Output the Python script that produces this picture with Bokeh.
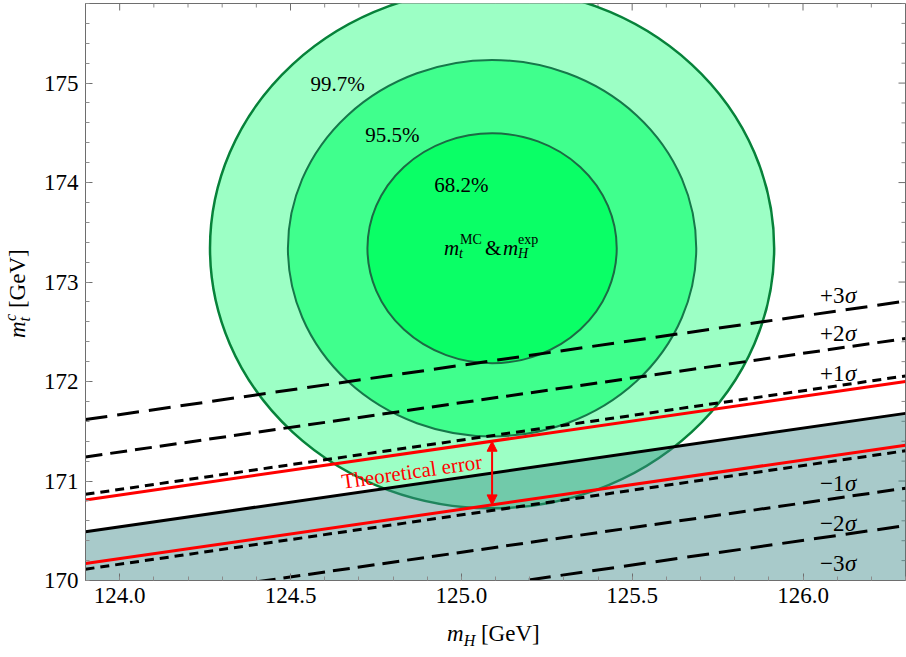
import math
import numpy as np
from bokeh.plotting import figure
from bokeh.layouts import column, row
from bokeh.models import (Range1d, SingleIntervalTicker, PrintfTickFormatter,
                          Arrow, NormalHead, Div)
from bokeh.core.properties import value
from bokeh.embed import file_html
from bokeh.resources import INLINE

# Axis extents
mh_range = [123.9, 126.3]
mt_range = [170.0, 175.8]

# Measured Higgs mass and MC top mass with their 1-sigma errors (GeV)
mh_exp = 125.09
mh_err = 0.24
mt_mc = 173.34
mt_err = 0.76

# 2D confidence regions, outermost first
cl_labels = ["99.7%", "95.5%", "68.2%"]
cl_nsigma = [3.44, 2.49, 1.52]

# Stability bound m_t^c as a function of m_H (values at both ends of the m_H range)
bound_mh = [123.9, 126.3]
bound_mt = [170.49, 171.68]
theory_err = 0.32
sigma_shift = 0.376
sigma_levels = [3, 2, 1, -1, -2, -3]
sigma_names = ["+3", "+2", "+1", "\u22121", "\u22122", "\u22123"]

SERIF = "'Liberation Serif', serif"
W, H = 906, 657
YTITLE_W = 40          # strip holding the rotated y-axis title
XTITLE_H = 37          # strip holding the x-axis title
P_W, P_H = W - YTITLE_W, H - XTITLE_H
B_LEFT, B_RIGHT, B_TOP, B_BOTTOM = 42, 1, 3, 40
FRAME_W = P_W - B_LEFT - B_RIGHT
FRAME_H = P_H - B_TOP - B_BOTTOM
px_x = FRAME_W / (mh_range[1] - mh_range[0])
px_y = FRAME_H / (mt_range[1] - mt_range[0])

p = figure(width=P_W, height=P_H, x_range=Range1d(*mh_range), y_range=Range1d(*mt_range),
           output_backend="svg", toolbar_location=None, margin=0,
           min_border_left=B_LEFT, min_border_right=B_RIGHT,
           min_border_top=B_TOP, min_border_bottom=B_BOTTOM)
p.grid.visible = False
FRAME_COLOR = "#6e6e6e"
p.outline_line_color = FRAME_COLOR
p.outline_line_width = 1
p.background_fill_color = "white"
p.border_fill_color = "white"


def style_axis(ax):
    ax.axis_line_color = FRAME_COLOR
    ax.axis_line_width = 1
    ax.major_tick_line_color = FRAME_COLOR
    ax.minor_tick_line_color = "#8c8c8c"
    ax.major_tick_in = 7
    ax.major_tick_out = 0
    ax.minor_tick_in = 4
    ax.minor_tick_out = 0
    ax.major_label_text_font = SERIF
    ax.major_label_text_font_size = "23px"
    ax.major_label_text_color = "black"
    ax.major_label_standoff = 7


xb = p.xaxis[0]
xb.ticker = SingleIntervalTicker(interval=0.5, num_minor_ticks=5)
xb.formatter = PrintfTickFormatter(format="%.1f")
style_axis(xb)
yl = p.yaxis[0]
yl.ticker = SingleIntervalTicker(interval=1.0, num_minor_ticks=5)
yl.formatter = PrintfTickFormatter(format="%.0f")
style_axis(yl)

# Inward ticks on the top and right frame edges
x_minor = np.round(np.arange(124.0, mh_range[1], 0.1), 2)
x_major = x_minor[np.isclose(x_minor * 2, np.round(x_minor * 2))]
x_minor = np.setdiff1d(x_minor, x_major)
y_minor = np.round(np.arange(mt_range[0], mt_range[1], 0.2), 2)
y_major = y_minor[np.isclose(y_minor, np.round(y_minor))]
y_minor = np.setdiff1d(y_minor, y_major)
for xs, ln, col in [(x_major, 7, FRAME_COLOR), (x_minor, 4, "#8c8c8c")]:
    p.ray(x=xs, y=np.full(len(xs), mt_range[1]), length=ln, length_units="screen",
          angle=-math.pi / 2, line_color=col, line_width=1)
for ys, ln, col in [(y_major, 7, FRAME_COLOR), (y_minor, 4, "#8c8c8c")]:
    p.ray(x=np.full(len(ys), mh_range[1]), y=ys, length=ln, length_units="screen",
          angle=math.pi, line_color=col, line_width=1)

# Confidence ellipses
fills = ["#9cffc5", "#40ff8d", "#0aff66"]
edges = ["#07823a", "#16784a", "#1c6a44"]
edge_w = [2.5, 2, 2]
for k, fc, ec, lw in zip(cl_nsigma, fills, edges, edge_w):
    p.ellipse(x=mh_exp, y=mt_mc, width=2 * k * mh_err, height=2 * k * mt_err,
              fill_color=fc, line_color=ec, line_width=lw)

# Excluded (unstable) region below the bound
x_b = np.array(bound_mh)
y_b = np.array(bound_mt)
p.varea(x=x_b, y1=np.full(2, mt_range[0]), y2=y_b, fill_color="#3e8a8a", fill_alpha=0.45)

# Experimental +-n sigma shifts of the bound
dashes = {1: "9 6", 2: "17 8", 3: "22 10"}
for lev in sigma_levels:
    p.line(x_b, y_b + lev * sigma_shift, line_color="black", line_width=3,
           line_dash=dashes[abs(lev)])

# Central bound and theoretical error band
p.line(x_b, y_b, line_color="black", line_width=3)
p.line(x_b, y_b + theory_err, line_color="red", line_width=3)
p.line(x_b, y_b - theory_err, line_color="red", line_width=3)

y_at_mh = float(np.interp(mh_exp, x_b, y_b))
p.add_layout(Arrow(start=NormalHead(size=10, fill_color="red", line_color="red"),
                   end=NormalHead(size=10, fill_color="red", line_color="red"),
                   x_start=mh_exp, y_start=y_at_mh - theory_err,
                   x_end=mh_exp, y_end=y_at_mh + theory_err,
                   line_color="red", line_width=2))

# Label along the bound, rotated to follow its slope on screen
slope = (bound_mt[1] - bound_mt[0]) / (bound_mh[1] - bound_mh[0])
angle = math.atan(slope * px_y / px_x)
te_x = 124.855
p.text(x=[te_x], y=[float(np.interp(te_x, x_b, y_b)) + 0.13], text=["Theoretical error"],
       angle=angle, text_font=value(SERIF), text_font_size="21px", text_color="red",
       text_align="center", text_baseline="middle")

# Confidence level labels
cl_pos = [(124.638, 174.986), (124.798, 174.483), (125.0, 173.98)]
for lab, (lx, ly) in zip(cl_labels, cl_pos):
    p.text(x=[lx], y=[ly], text=[lab], text_font=value(SERIF), text_font_size="21px",
           text_color="black", text_align="center", text_baseline="middle")

# m_t^MC & m_H^exp at the measured point
pieces = [("m", "italic", "21px", -48, 0), ("t", "italic", "14px", -33, 5),
          ("MC", "normal", "14px", -32, -9), ("&", "normal", "21px", -7, 0),
          ("m", "italic", "21px", 11, 0), ("H", "italic", "14px", 26, 5),
          ("exp", "normal", "14px", 26, -9)]
for t, st, fs, dx, dy in pieces:
    p.text(x=[mh_exp], y=[mt_mc], text=[t], x_offset=dx, y_offset=dy,
           text_font=value(SERIF), text_font_style=st, text_font_size=fs,
           text_color="black", text_align="left", text_baseline="alphabetic")

# Sigma labels on the right
sig_x = 126.05
sig_y = [172.865, 172.48, 172.08, 170.975, 170.57, 170.17]
for nm, sy in zip(sigma_names, sig_y):
    p.text(x=[sig_x], y=[sy], text=[nm], text_font=value(SERIF), text_font_size="23px",
           text_color="black", text_align="left", text_baseline="middle")
    p.text(x=[sig_x], y=[sy], text=["\u03c3"], x_offset=25, text_font=value(SERIF),
           text_font_style="italic", text_font_size="23px", text_color="black",
           text_align="left", text_baseline="middle")

# Axis titles with italic symbols and sub/superscripts
FONT_CSS = f"font-family:{SERIF};font-size:23px;line-height:23px;color:black;white-space:nowrap;"
SUB = "position:relative;font-size:16px;"
x_title = Div(width=W, height=XTITLE_H, margin=0, text=(
    f"<div style=\"{FONT_CSS}margin-left:447px;margin-top:2px;\">"
    f"<i>m</i><span style=\"{SUB}top:5px;\"><i>H</i></span> [GeV]</div>"))
y_title = Div(width=YTITLE_W, height=P_H, margin=0, text=(
    f"<div style=\"{FONT_CSS}width:max-content;transform-origin:0 0;"
    f"transform:translate(6px,338px) rotate(-90deg);\">"
    f"<i>m</i><span style=\"{SUB}top:5px;\"><i>t</i></span>"
    f"<span style=\"{SUB}top:-9px;margin-left:-4px;\"><i>c</i></span> [GeV]</div>"))

layout = column(row(y_title, p, spacing=0, margin=0), x_title, spacing=0, margin=0)

open("out.html", "w").write(file_html(layout, INLINE))
